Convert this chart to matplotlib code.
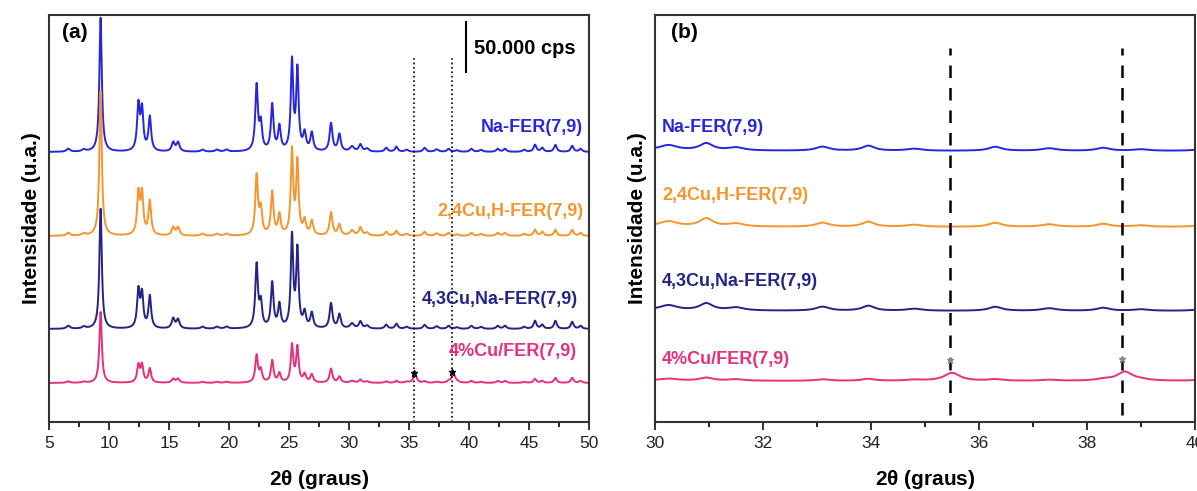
import numpy as np
import matplotlib.pyplot as plt
from matplotlib.ticker import MultipleLocator

plt.rcParams['font.family'] = ['Liberation Sans', 'DejaVu Sans']

# peak positions (2theta, deg)
peak_pos = [6.6, 7.9, 9.3, 12.45, 12.75, 13.4, 15.35, 15.75, 17.8, 19.0, 19.8,
            22.3, 22.65, 23.6, 24.2, 25.25, 25.7, 26.3, 26.9, 28.5, 29.2,
            30.25, 30.95, 31.5, 33.1, 33.95, 34.8, 36.3, 37.3, 38.3, 39.0,
            40.2, 41.0, 42.4, 43.0, 44.6, 45.5, 46.1, 47.2, 48.6, 49.3]
peak_fwhm = [0.35, 0.35, 0.24, 0.26, 0.26, 0.26, 0.3, 0.3, 0.35, 0.35, 0.35,
             0.26, 0.26, 0.26, 0.26, 0.24, 0.24, 0.28, 0.28, 0.28, 0.28,
             0.4, 0.3, 0.35, 0.3, 0.28, 0.35, 0.3, 0.35, 0.3, 0.35,
             0.3, 0.35, 0.3, 0.3, 0.35, 0.28, 0.28, 0.28, 0.28, 0.3]

# peak heights (kcps) for each sample
h_na = [3, 2, 134, 45, 40, 34, 9, 9, 2, 2, 2,
        65, 26, 46, 24, 89, 80, 17, 18, 28, 17,
        5, 7, 3, 4, 5, 2, 4, 2.5, 3, 1.5,
        3, 2, 3, 3, 2, 7, 4, 7, 6, 3]
h_24cu = [3, 2, 145, 41, 40, 34, 8, 8, 2, 2, 2,
          59, 25, 43, 20, 84, 72, 14, 14, 23, 11,
          5, 8, 3, 4, 5, 2, 4, 2.5, 3, 1.5,
          3, 2, 3, 3, 2, 6, 4, 6, 6, 3]
h_43cu = [3, 2, 120, 37, 33, 32, 10, 9, 2, 2, 2,
          63, 24, 45, 23, 91, 77, 15, 15, 25, 14,
          5, 7, 3, 4, 5, 2, 4, 2.5, 3, 1.5,
          3, 2, 3, 3, 2, 8, 4, 8, 7, 3]
h_4cu = [1.5, 1, 71, 17, 17, 14, 4, 4, 1, 1, 1,
         27, 12, 22, 9, 37, 35, 8, 8, 14, 6,
         2, 3, 1.5, 1.5, 2, 1, 1.5, 1, 1.5, 1,
         2, 1, 2, 2, 1, 4, 2, 5, 5, 2]

# extra Cu phase reflections in 4%Cu/FER (marked with stars)
cu_pos = [35.5, 38.7]
cu_h = [8, 9]
cu_fwhm = [0.35, 0.35]

labels = ['Na-FER(7,9)', '2,4Cu,H-FER(7,9)', '4,3Cu,Na-FER(7,9)', '4%Cu/FER(7,9)']
colors = ['#2626e0', '#f5962c', '#23238a', '#e6307e']
offsets_a = [270, 186, 93, 39]
offsets_b = [271, 195, 111, 41]


def pattern(tt, pos, hts, fwhm):
    y = np.zeros_like(tt)
    for p, h, w in zip(pos, hts, fwhm):
        g = w / 2
        y += h * g**2 / ((tt - p)**2 + g**2)
    return y


tt = np.arange(5, 50.001, 0.01)
curves = [pattern(tt, peak_pos, h, peak_fwhm) for h in (h_na, h_24cu, h_43cu, h_4cu)]
curves[3] = curves[3] + pattern(tt, cu_pos, cu_h, cu_fwhm)

fig = plt.figure(figsize=(11.97, 4.91), dpi=100)
ax1 = fig.add_axes([49 / 1197, 69 / 491, 540 / 1197, 407 / 491])
ax2 = fig.add_axes([655 / 1197, 69 / 491, 540 / 1197, 407 / 491])

# (a) full range
for c, off, col in zip(curves, offsets_a, colors):
    ax1.plot(tt, c + off, color=col, lw=1.4)
for x in cu_pos:
    ax1.plot([x - 0.1, x - 0.1], [0, 366], ls=':', color='black', lw=1.2)
ax1.plot([35.4, 38.6], [39 + 10, 39 + 11], ls='none', marker='*', color='black', ms=5)

label_y_a = [294, 211, 122, 70]
label_x_a = [49.5, 49.5, 49.1, 49.0]
for lab, col, lx, ly in zip(labels, colors, label_x_a, label_y_a):
    ax1.text(lx, ly, lab, color=col, fontsize=13, fontweight='bold', ha='right', va='center')
ax1.text(6.1, 389, '(a)', fontsize=15, fontweight='bold', ha='left', va='center')
ax1.plot([39.75, 39.75], [350, 400], color='black', lw=1.5)
ax1.text(40.4, 374, '50.000 cps', fontsize=14.5, fontweight='bold', ha='left', va='center')

ax1.set_xlim(5, 50)
ax1.set_ylim(0, 407)
ax1.xaxis.set_major_locator(MultipleLocator(5))
ax1.xaxis.set_minor_locator(MultipleLocator(2.5))

# (b) zoom 30-40
for c, off, col in zip(curves, offsets_b, colors):
    ax2.plot(tt, c + off, color=col, lw=1.4)
for x in [35.46, 38.64]:
    ax2.plot([x, x], [7, 374], ls=(0, (5, 4)), color='black', lw=1.8)
ax2.plot([35.46, 38.64], [62, 63], ls='none', marker='*', color='#888888', ms=5)

label_y_b = [295, 227, 140, 62]
for lab, col, ly in zip(labels, colors, label_y_b):
    ax2.text(30.13, ly, lab, color=col, fontsize=13, fontweight='bold', ha='left', va='center')
ax2.text(30.3, 389, '(b)', fontsize=15, fontweight='bold', ha='left', va='center')

ax2.set_xlim(30, 40)
ax2.set_ylim(0, 407)
ax2.xaxis.set_major_locator(MultipleLocator(2))
ax2.xaxis.set_minor_locator(MultipleLocator(1))

for ax in (ax1, ax2):
    ax.set_yticks([])
    ax.tick_params(axis='x', which='major', direction='out', length=6, width=1.3,
                   labelsize=12.5, pad=4, colors='#222222')
    ax.tick_params(axis='x', which='minor', direction='out', length=3.5, width=1.2)
    for s in ax.spines.values():
        s.set_linewidth(1.5)
        s.set_color('#333333')
    ax.set_xlabel(r'2$\mathregular{\theta}$ (graus)', fontsize=15, fontweight='bold', labelpad=12)
    ax.set_ylabel('Intensidade (u.a.)', fontsize=15, fontweight='bold', labelpad=6)

fig.savefig('out.png', dpi=100)
